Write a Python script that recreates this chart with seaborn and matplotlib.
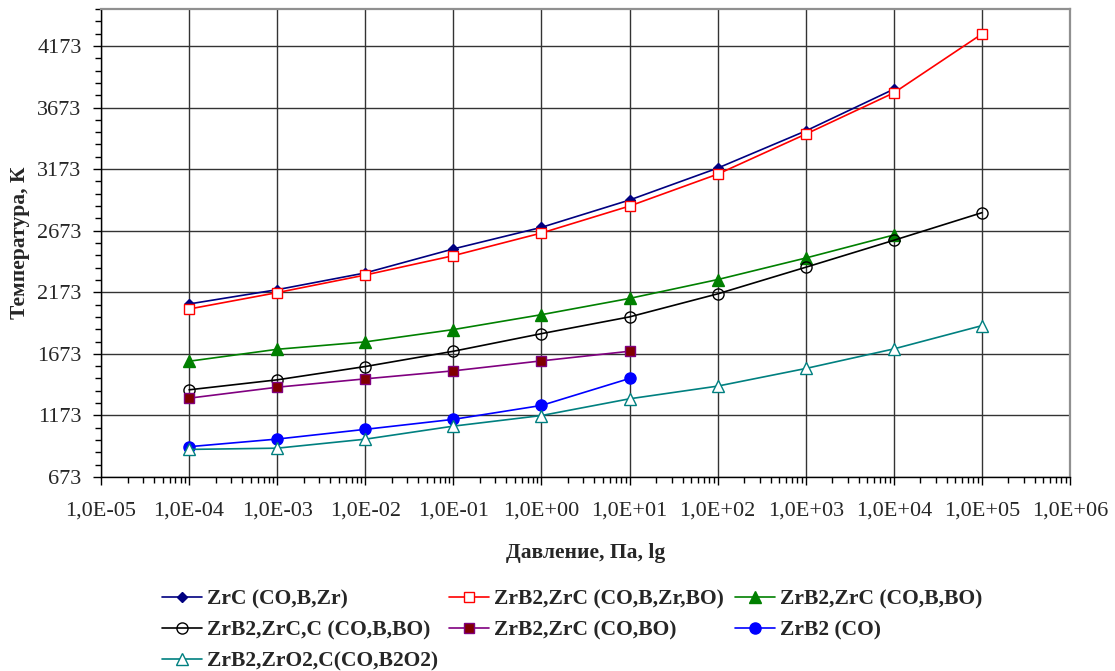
import numpy as np
import pandas as pd
import matplotlib
matplotlib.use("Agg")
import matplotlib.pyplot as plt
import seaborn as sns
from matplotlib.ticker import FixedLocator, FuncFormatter, NullFormatter

# ---- data ----
pressure_exp = [-4, -3, -2, -1, 0, 1, 2, 3, 4, 5]

zrc = [2078, 2194, 2330, 2525, 2700, 2922, 3181, 3483, 3822]
zrb2_zrc_cobzrbo = [2037, 2170, 2313, 2470, 2654, 2873, 3132, 3457, 3792, 4270]
zrb2_zrc_cobbo = [1613, 1710, 1770, 1870, 1991, 2123, 2276, 2451, 2638]
zrb2_zrc_c = [1381, 1462, 1570, 1694, 1837, 1973, 2160, 2376, 2595, 2819]
zrb2_zrc_cobo = [1313, 1402, 1470, 1535, 1616, 1694]
zrb2_co = [919, 981, 1060, 1141, 1254, 1473]
zrb2_zro2_c = [897, 907, 980, 1086, 1172, 1308, 1411, 1554, 1713, 1902]

labels = ["ZrC (CO,B,Zr)", "ZrB2,ZrC (CO,B,Zr,BO)", "ZrB2,ZrC (CO,B,BO)",
          "ZrB2,ZrC,C (CO,B,BO)", "ZrB2,ZrC (CO,BO)", "ZrB2 (CO)",
          "ZrB2,ZrO2,C(CO,B2O2)"]
y_ticks = [673, 1173, 1673, 2173, 2673, 3173, 3673, 4173]
x_tick_exp = [-5, -4, -3, -2, -1, 0, 1, 2, 3, 4, 5, 6]

series = [zrc, zrb2_zrc_cobzrbo, zrb2_zrc_cobbo, zrb2_zrc_c, zrb2_zrc_cobo, zrb2_co, zrb2_zro2_c]
styles = [
    dict(color="#000080", marker="D", mfc="#000080", mec="#000080", ms=5.5),
    dict(color="#FF0000", marker="s", mfc="white", mec="#FF0000", ms=6.5),
    dict(color="#008000", marker="^", mfc="#008000", mec="#008000", ms=8),
    dict(color="#000000", marker="o", mfc="none", mec="#000000", ms=8),
    dict(color="#800080", marker="s", mfc="#800000", mec="#800080", ms=6.5),
    dict(color="#0000FF", marker="o", mfc="#0000FF", mec="#0000FF", ms=8),
    dict(color="#008080", marker="^", mfc="white", mec="#008080", ms=8),
]

sns.set_theme(style="white")
plt.rcParams["font.family"] = ["Liberation Serif", "DejaVu Serif"]

fig = plt.figure(figsize=(11.15, 6.71), dpi=100)
ax = fig.add_axes([101 / 1115, 1 - 477 / 671, (1070 - 101) / 1115, (477 - 9) / 671])

handles = []
for vals, lab, st in zip(series, labels, styles):
    xs = [10.0 ** e for e in pressure_exp[:len(vals)]]
    df = pd.DataFrame({"x": xs, "y": vals})
    sns.lineplot(data=df, x="x", y="y", ax=ax, color=st["color"], marker=st["marker"],
                 markerfacecolor=st["mfc"], markeredgecolor=st["mec"], markersize=st["ms"],
                 markeredgewidth=1.0, linewidth=1.2, label=lab, legend=False, zorder=3)
    handles.append(ax.lines[-1])

ax.set_xscale("log")
ax.set_xlim(1e-5, 1e6)
ax.set_ylim(673, 4473)
ax.yaxis.set_major_locator(FixedLocator(y_ticks))
ax.yaxis.set_minor_locator(FixedLocator(list(range(673, 4474, 100))))
ax.xaxis.set_major_locator(FixedLocator([10.0 ** e for e in x_tick_exp]))
minor_x = [m * 10.0 ** e for e in x_tick_exp[:-1] for m in range(2, 10)]
ax.xaxis.set_minor_locator(FixedLocator(minor_x))
ax.xaxis.set_minor_formatter(NullFormatter())
ax.xaxis.set_major_formatter(FuncFormatter(lambda v, p: "1,0E%+03d" % int(round(np.log10(v)))))

ax.grid(True, which="major", color="#333333", linewidth=1.0)
ax.tick_params(axis="both", which="major", direction="out", length=6, width=1.0,
               color="black", labelsize=16, left=True, bottom=True)
ax.tick_params(axis="both", which="minor", direction="out", length=4, width=1.0,
               color="black", left=True, bottom=True)
ax.tick_params(axis="x", which="major", pad=12)
ax.tick_params(axis="y", which="major", pad=8)
for s in ["left", "bottom"]:
    ax.spines[s].set_color("black")
    ax.spines[s].set_linewidth(1.0)
for s in ["top", "right"]:
    ax.spines[s].set_color("#909090")
    ax.spines[s].set_linewidth(1.6)

ax.set_xlabel("Давление, Па, lg", fontsize=15.5, fontweight="bold", labelpad=16)
ax.set_ylabel("Температура, К", fontsize=15.5, fontweight="bold", labelpad=5)

order = [0, 3, 6, 1, 4, 2, 5]
leg = fig.legend([handles[i] for i in order], [labels[i] for i in order],
                 loc="upper left", bbox_to_anchor=(162 / 1115, 1 - 589 / 671), ncol=3,
                 frameon=False, prop={"family": "Liberation Serif", "weight": "bold", "size": 15.5},
                 handlelength=1.85, handletextpad=0.25, columnspacing=0.5, labelspacing=0.52,
                 borderaxespad=0, borderpad=0)

fig.savefig("out.png", dpi=100)
